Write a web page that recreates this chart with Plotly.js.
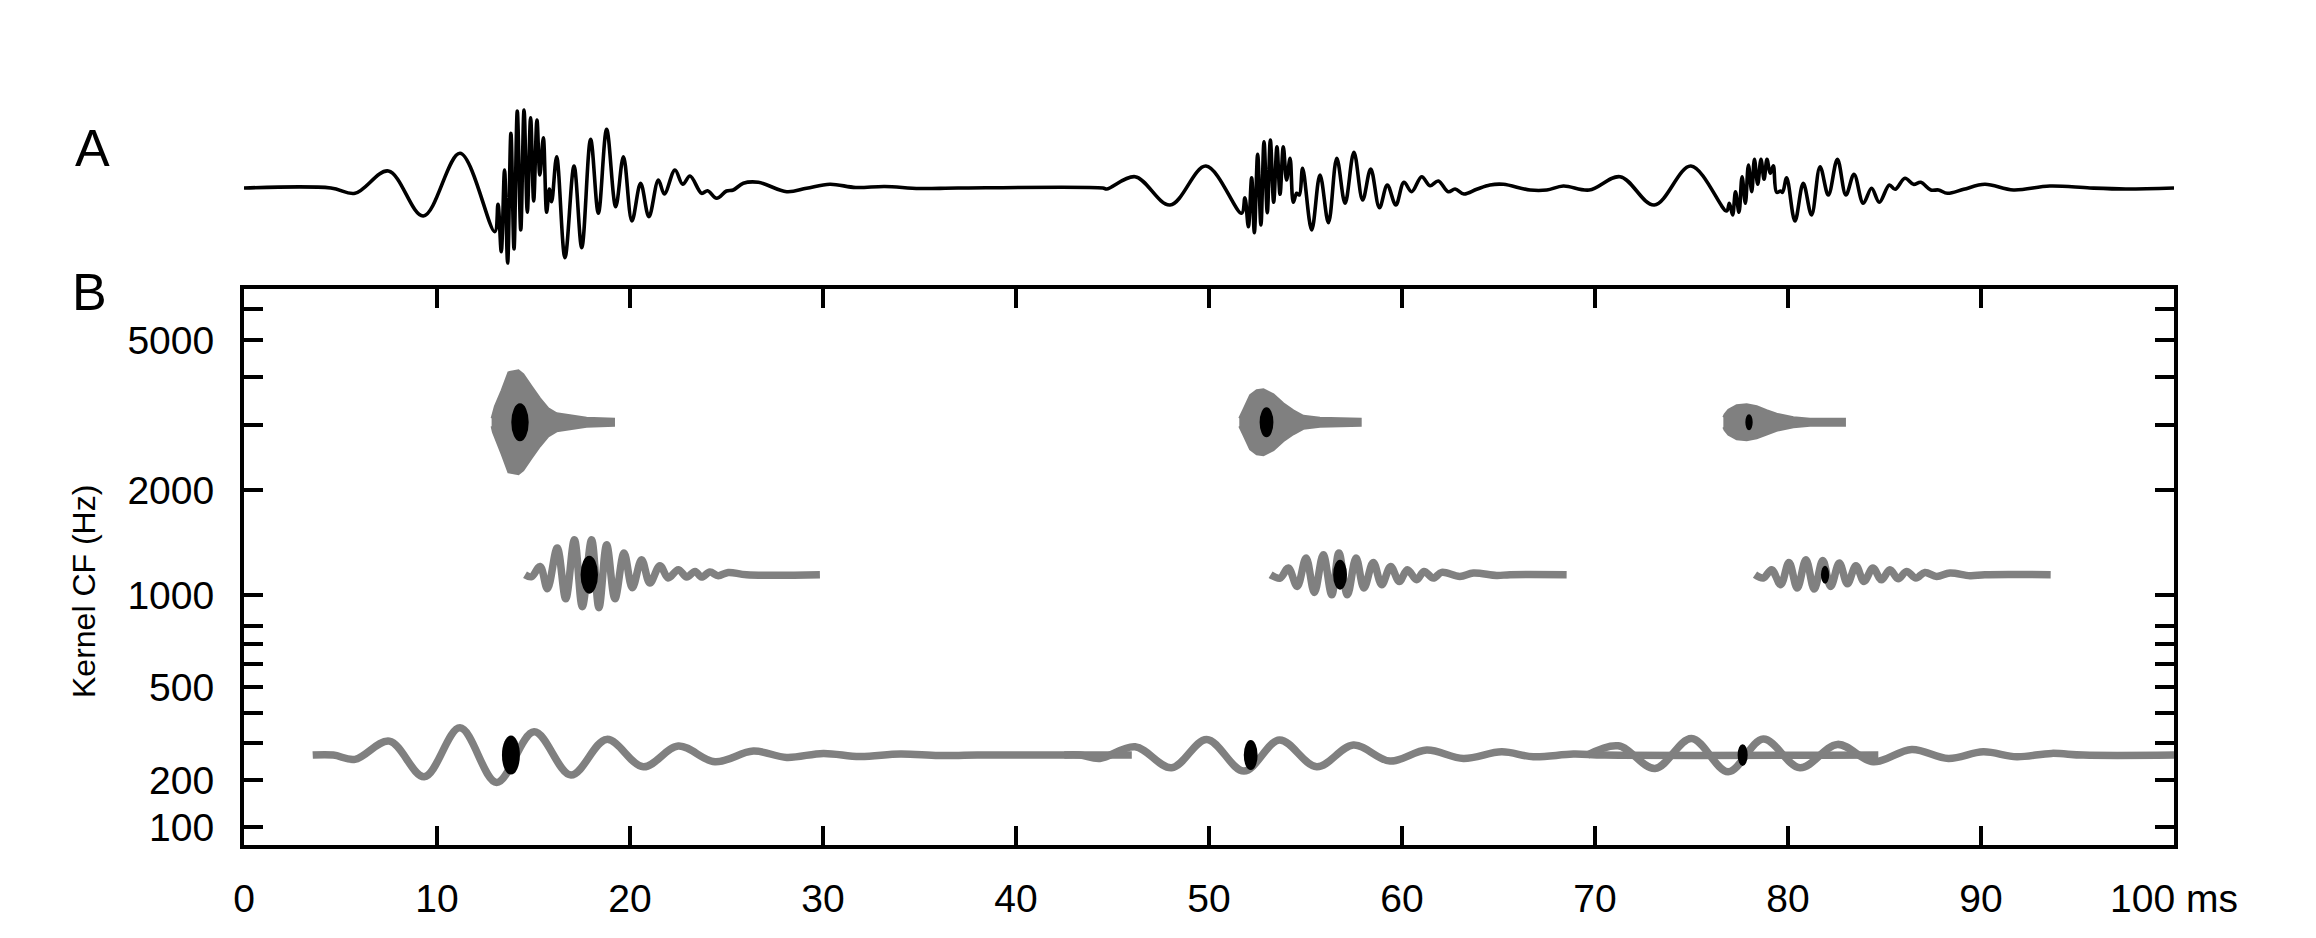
<!DOCTYPE html>
<html>
<head>
<meta charset="utf-8">
<script src="https://cdn.plot.ly/plotly-3.0.1.min.js"></script>
<style>html,body{margin:0;padding:0;background:#fff;}#chart{width:2316px;height:938px;}</style>
</head>
<body>
<div id="chart"></div>
<script>
// ---------------- DATA ----------------
// Panel A: sound waveform, time (ms) and amplitude (arbitrary units)
const waveT = [0,4.5,5.75,7.48,9.29,11.19,12.99,13.16,13.33,13.5,13.66,13.83,13.99,14.16,14.34,14.51,14.68,14.85,15.01,15.18,15.33,15.51,15.68,15.82,15.94,16.2,16.63,17.1,17.5,17.96,18.36,18.79,19.26,19.66,20.1,20.55,20.98,21.47,21.78,22.33,22.73,23.11,23.71,24.02,24.49,25.0,25.35,25.87,26.65,28.12,29.15,30.36,31.7,33.2,35,37,44.5,
  44.7,46.17,47.98,49.84,51.69,51.86,52.04,52.21,52.35,52.52,52.69,52.85,53.02,53.18,53.35,53.52,53.68,53.85,54.02,54.2,54.37,54.54,54.68,54.85,55.32,55.75,56.19,56.62,57.05,57.51,57.96,58.38,58.83,59.24,59.68,60.1,60.5,61.02,61.45,61.88,62.4,62.75,63.21,63.87,64.56,65.25,66.63,67.5,68.36,
  69.7,71.3,73.07,74.97,76.82,76.96,77.13,77.28,77.46,77.62,77.79,77.95,78.12,78.26,78.43,78.6,78.76,78.91,79.08,79.24,79.41,79.62,79.72,79.93,80.36,80.79,81.22,81.66,82.09,82.56,83.0,83.42,83.9,84.33,84.73,85.25,85.55,86.06,86.5,86.88,87.4,87.8,88.26,89.1,90.2,91.68,93.57,95.65,97.5,100];
const waveA = [0,0,-5.3,17,-28,34.7,-43.7,-16.3,-63.7,18,-75,54.7,-61,77,-42,78,-24.3,70.3,-13,68,13,50.3,-24.3,-1,-13.7,31.3,-69.7,22,-59.7,48.7,-25.3,58.7,-18.7,31.3,-33,4.7,-28.7,8,-6,18,3.7,12,-5.3,-2.7,-10.3,-3,-2,4.7,5.7,-3.7,-0.3,3.7,0.5,1.5,-0.5,0,0,
  -1,11.3,-17,22,-25.3,-9.7,-38.7,10.3,-44.7,33.7,-37,46.3,-24.7,48,-14.3,41.3,-6.3,41.3,8,29.7,-14.3,-5.3,-7,19.7,-42,13,-34.7,29.7,-15.3,35.7,-12,19,-19.7,3,-17,5.7,-3.7,11.3,2.3,7,-3.7,-1,-6,-1.3,3,3.7,-2,-2,2,
  -2,11.3,-17,22,-23,-15.3,-27,-3.7,-24.3,11.3,-15.3,23,-3.7,28.7,3.7,28.7,8.7,28.7,14.7,22.3,-4.3,-3,-4.3,10.3,-33,4.7,-27,21.3,-7,28.7,-7,13.7,-15.3,-0.3,-14.3,3,-1.3,9.7,3.7,5.7,-2,-2,-5.3,-1.3,3.7,-2,2,0,-1,0];

// Panel B: kernel characteristic frequencies (Hz)
const cfHigh = 3050, cfMid = 1150, cfLow = 266;

// High-CF kernel outputs: envelope (half-height, arbitrary units) versus time (ms)
const high1T = [12.83,12.9,13.0,13.35,13.7,14.22,14.47,14.9,15.34,15.77,16.2,16.89,17.75,19.17];
const high1E = [4,10,16,32,50,52,48,36,24,14,9,7,4.5,3.5];
const high2T = [51.57,51.65,51.78,52.13,52.47,52.82,53.34,53.85,54.37,54.89,55.75,57.86];
const high2E = [4,8,12.5,27,32,33,28,19,12,6.5,4.5,3.5];
const high3T = [76.65,76.72,76.91,77.34,77.86,78.38,78.89,79.41,80.28,81.14,82.95];
const high3E = [5,8,12.5,17,18,16,12,8.5,5,3.5,3.5];

// Mid-CF kernel outputs (time ms, output)
const mid1T = [14.56,14.9,15.34,15.72,16.23,16.67,17.12,17.53,18.01,18.39,18.79,19.22,19.69,20.12,20.6,21.03,21.55,21.98,22.5,22.94,23.37,23.71,24.14,24.57,25.09,26.04,29.84];
const mid1V = [0,-2,8.3,-14,26.7,-24,35,-32,35,-33,30,-24,21.7,-13,15,-8.3,9,-3.3,5,-2.3,3.3,-2.3,2.7,-1,2.3,0,0];
const mid2T = [53.19,53.68,54.11,54.57,55.03,55.46,55.92,56.36,56.73,57.17,57.62,58.03,58.51,58.95,59.41,59.86,60.28,60.76,61.14,61.62,62.06,63.0,63.7,64.9,65.6,68.53];
const mid2V = [0,-3.3,6.7,-11.7,16.7,-17.7,20,-20,21.7,-20,16.7,-13.3,12.3,-10,8.3,-6.7,5,-5,3.3,-3.3,2.3,-1.7,1.7,-0.7,0,0];
const mid3T = [78.29,78.72,79.15,79.62,80.05,80.48,80.93,81.36,81.8,82.21,82.66,83.08,83.52,83.94,84.4,84.84,85.28,85.71,86.14,86.63,87.09,87.7,88.39,89.43,90.2,93.61];
const mid3V = [0,-3.3,5,-10,12.3,-13.3,15,-14.3,14.3,-11.7,11.7,-9,9,-6.7,6.7,-5,5,-4,3.3,-3.3,2.3,-1.7,1.7,-1,0,0];

// Low-CF kernel outputs (time ms, output)
const low1T = [3.56,4.63,5.75,7.53,9.34,11.19,13.09,15.03,16.94,18.79,20.69,22.5,24.4,26.39,28.12,30.02,31.9,34,36,38,46.0];
const low1V = [0,0,-4.3,14,-21.7,27.3,-27.3,23.3,-20,15.7,-11.7,9,-6.7,4,-2.3,1.7,-1.5,1,-0.5,0,0];
const low2T = [42.5,43.32,44.35,46.17,48.06,49.88,51.81,53.65,55.58,57.48,59.38,61.28,63.18,65.17,66.8,68.88,70.5,84.68];
const low2V = [0,0,-3.3,8.3,-12.7,15.7,-16,15,-11.7,10,-6,5,-3.3,3.3,-1.7,1,0,0];
const low3T = [69.6,71.21,73.11,75.0,76.9,78.72,80.62,82.56,84.42,86.41,88.31,90.12,91.85,93.66,95.3,100];
const low3V = [0,9.3,-13.3,16.7,-16.7,16,-12.7,10.7,-6.7,5.7,-3.3,3.3,-1.7,1.7,0,0];

// Peak events (black ellipses): time (ms), kernel CF (Hz), relative magnitude
const peakT   = [14.3, 17.89, 13.83, 52.98, 56.79, 52.16, 77.98, 81.92, 77.65];
const peakCF  = [3050, 1150, 266, 3050, 1150, 266, 3050, 1150, 266];
const peakMag = [0.97, 0.97, 1.0, 0.77, 0.77, 0.77, 0.41, 0.46, 0.56];

// Axis ticks
const xTickVals = [0,10,20,30,40,50,60,70,80,90,100];
const xTickText = ['0','10','20','30','40','50','60','70','80','90','100 ms'];
const yTickHz   = [100,200,300,400,500,600,700,800,1000,2000,3000,4000,5000,6000];
const yTickText = ['100','200','','','500','','','','1000','2000','','','5000',''];

// ---------------- GEOMETRY / STYLE ----------------
const W = 2316, H = 938;
const M = {l:244, r:142, t:60, b:93};
const plotH = H - M.t - M.b;            // 785
const plotW = W - M.l - M.r;            // 1930
const bHeight = 556;                    // px height of panel B
const yRangeB = [2.42, 31.78];          // ERB-rate range
const erbPerPx = (yRangeB[1]-yRangeB[0]) / bHeight;
const msPerPx = 100 / plotW;
const gray = '#808080';
const FONT = 'Liberation Sans, Arial, sans-serif';

function erb(f){ return 21.4*Math.log10(1 + 0.00437*f); }

const traces = [];
// Panel A
traces.push({x: waveT, y: waveA, xaxis:'x2', yaxis:'y2', mode:'lines',
  line:{color:'#000', width:3.6, shape:'spline', smoothing:1, simplify:false}, hoverinfo:'skip'});

// Panel B: low and mid kernels
function osc(T, V, cf){
  const base = erb(cf);
  traces.push({x:T, y:V.map(v => base + v*erbPerPx), xaxis:'x', yaxis:'y', mode:'lines',
    line:{color:gray, width:7.5, shape:'spline', smoothing:1, simplify:false}, hoverinfo:'skip'});
}
osc(low1T, low1V, cfLow); osc(low2T, low2V, cfLow); osc(low3T, low3V, cfLow);
osc(mid1T, mid1V, cfMid); osc(mid2T, mid2V, cfMid); osc(mid3T, mid3V, cfMid);

// Panel B: high kernels (dense oscillation drawn as its envelope band)
function band(T, E, cf){
  const base = erb(cf);
  const xs = T.concat(T.slice().reverse());
  const ys = E.map(e => base + e*erbPerPx).concat(E.slice().reverse().map(e => base - e*erbPerPx));
  traces.push({x:xs, y:ys, xaxis:'x', yaxis:'y', mode:'lines', fill:'toself', fillcolor:gray,
    line:{color:gray, width:2, shape:'linear'}, hoverinfo:'skip'});
}
band(high1T, high1E, cfHigh); band(high2T, high2E, cfHigh); band(high3T, high3E, cfHigh);

// Peak ellipses
const shapes = peakT.map((t,i) => {
  const hPx = 39*peakMag[i], wPx = 0.46*hPx;
  const yc = erb(peakCF[i]);
  return {type:'circle', xref:'x', yref:'y', layer:'above',
    x0: t - wPx*msPerPx/2, x1: t + wPx*msPerPx/2,
    y0: yc - hPx*erbPerPx/2, y1: yc + hPx*erbPerPx/2,
    fillcolor:'#000', line:{width:0}};
});

const axisCommon = {showline:true, linecolor:'#000', linewidth:4, mirror:'ticks',
  ticks:'inside', ticklen:19, tickwidth:4, tickcolor:'#000',
  showgrid:false, zeroline:false, tickfont:{family:FONT, size:39, color:'#000'}};

const layout = {
  width:W, height:H, margin:M, paper_bgcolor:'#fff', plot_bgcolor:'rgba(0,0,0,0)',
  showlegend:false, font:{family:FONT, color:'#000'},
  xaxis: Object.assign({}, axisCommon, {domain:[0,1], range:[0,100], anchor:'y',
    tickmode:'array', tickvals:xTickVals, ticktext:xTickText, ticklabelstandoff:16}),
  yaxis: Object.assign({}, axisCommon, {domain:[0, bHeight/plotH], range:yRangeB, anchor:'x',
    tickmode:'array', tickvals:yTickHz.map(erb), ticktext:yTickText, ticklabelstandoff:18}),
  xaxis2: {domain:[0,1], range:[0,100], anchor:'y2', visible:false},
  yaxis2: {domain:[(845-275)/plotH, (845-95)/plotH], range:[-87,93], anchor:'x2', visible:false},
  shapes: shapes,
  annotations: [
    {text:'A', xref:'paper', yref:'paper', x:(92-M.l)/plotW, y:(845-148)/plotH, showarrow:false,
     xanchor:'center', yanchor:'middle', font:{family:FONT, size:52, color:'#000'}},
    {text:'B', xref:'paper', yref:'paper', x:(89-M.l)/plotW, y:(845-292)/plotH, showarrow:false,
     xanchor:'center', yanchor:'middle', font:{family:FONT, size:52, color:'#000'}},
    {text:'Kernel CF (Hz)', xref:'paper', yref:'paper', x:(84-M.l)/plotW, y:(845-592)/plotH,
     showarrow:false, textangle:-90, xanchor:'center', yanchor:'middle',
     font:{family:FONT, size:32, color:'#000'}}
  ]
};

Plotly.newPlot('chart', traces, layout, {staticPlot:true, displayModeBar:false});
</script>
</body>
</html>
